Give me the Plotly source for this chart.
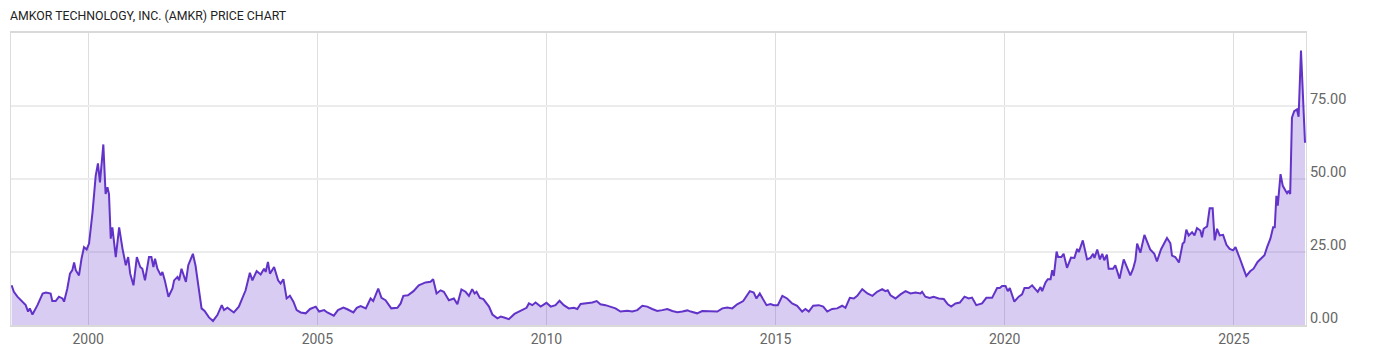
import plotly.graph_objects as go

title_text = "AMKOR TECHNOLOGY, INC. (AMKR) PRICE CHART"

dates = [
    "1998-05-01", "1998-05-19", "1998-06-16", "1998-07-12", "1998-08-21", "1998-09-09", "1998-09-23",
    "1998-10-14", "1998-11-23", "1999-01-03", "1999-01-29", "1999-03-08", "1999-03-21", "1999-04-17",
    "1999-05-13", "1999-06-10", "1999-06-23", "1999-07-19", "1999-08-09", "1999-08-28", "1999-09-11",
    "1999-09-24", "1999-10-20", "1999-11-09", "1999-11-29", "1999-12-20", "2000-01-08", "2000-02-05",
    "2000-03-01", "2000-03-19", "2000-04-04", "2000-05-01", "2000-05-19", "2000-06-03", "2000-06-15",
    "2000-06-29", "2000-07-12", "2000-08-08", "2000-09-04", "2000-10-01", "2000-10-27", "2000-11-15",
    "2000-12-01", "2000-12-27", "2001-01-23", "2001-02-19", "2001-03-08", "2001-03-29", "2001-04-30",
    "2001-05-19", "2001-06-04", "2001-06-17", "2001-07-06", "2001-08-02", "2001-08-15", "2001-09-03",
    "2001-10-02", "2001-11-03", "2001-11-16", "2001-12-13", "2001-12-26", "2002-01-14", "2002-02-18",
    "2002-03-09", "2002-04-15", "2002-05-06", "2002-06-02", "2002-06-23", "2002-07-17", "2002-08-21",
    "2002-09-22", "2002-10-27", "2002-12-01", "2002-12-19", "2003-01-15", "2003-02-06",
    "2003-03-07", "2003-04-16", "2003-05-13", "2003-06-09", "2003-07-13", "2003-08-02", "2003-09-05",
    "2003-10-07", "2003-11-03", "2003-11-16", "2003-12-04", "2003-12-20", "2004-01-22", "2004-02-23",
    "2004-03-14", "2004-04-05", "2004-05-01", "2004-05-27", "2004-06-24", "2004-07-20", "2004-08-21",
    "2004-09-30", "2004-11-04", "2004-12-19", "2005-01-15", "2005-02-24", "2005-03-21", "2005-05-12",
    "2005-06-14", "2005-07-27", "2005-08-28", "2005-10-15", "2005-11-11", "2005-12-12", "2006-01-22",
    "2006-03-01", "2006-03-22", "2006-05-01", "2006-05-27", "2006-06-28", "2006-08-13", "2006-10-01",
    "2006-10-27", "2006-11-17", "2006-12-24", "2007-02-06", "2007-03-20", "2007-05-13", "2007-06-22",
    "2007-07-13", "2007-08-09", "2007-09-10", "2007-10-06", "2007-11-15",
    "2007-12-25", "2008-01-22", "2008-02-23", "2008-03-27", "2008-04-23", "2008-05-19", "2008-06-07",
    "2008-06-23", "2008-07-19", "2008-08-16", "2008-09-30", "2008-10-27", "2008-12-06", "2009-01-02",
    "2009-02-03", "2009-03-07", "2009-04-21", "2009-06-03", "2009-07-05", "2009-07-26", "2009-08-14",
    "2009-09-10", "2009-10-06", "2009-11-16", "2010-01-01", "2010-02-04", "2010-03-14", "2010-04-15",
    "2010-05-19", "2010-06-28", "2010-08-07", "2010-09-04", "2010-09-30", "2010-11-22", "2011-01-02",
    "2011-02-05", "2011-03-07", "2011-04-16", "2011-05-26", "2011-07-05", "2011-08-14", "2011-10-07",
    "2011-11-16", "2011-12-26", "2012-02-04", "2012-03-14", "2012-04-23", "2012-06-02", "2012-07-12",
    "2012-08-21", "2012-09-30", "2012-11-09", "2012-12-19", "2013-01-28", "2013-02-24", "2013-03-20",
    "2013-04-16", "2013-05-26", "2013-07-18", "2013-09-24", "2013-11-03", "2013-12-12", "2014-01-21",
    "2014-03-01", "2014-04-18", "2014-05-14", "2014-06-10", "2014-07-11", "2014-08-02", "2014-08-28",
    "2014-09-25", "2014-10-21", "2014-11-22", "2014-12-18", "2015-01-19", "2015-02-24", "2015-04-03",
    "2015-05-13", "2015-06-22", "2015-08-01", "2015-08-27", "2015-09-23", "2015-10-28", "2015-12-12",
    "2016-01-16", "2016-02-17", "2016-03-27", "2016-05-06", "2016-06-15", "2016-07-11", "2016-08-15",
    "2016-09-16", "2016-10-13", "2016-11-22", "2017-01-02", "2017-02-11", "2017-03-20", "2017-04-30",
    "2017-05-25", "2017-06-13", "2017-07-05", "2017-08-14", "2017-09-23", "2017-11-02", "2017-12-12",
    "2018-01-21", "2018-03-01", "2018-03-14", "2018-04-09", "2018-05-13", "2018-06-14", "2018-07-24",
    "2018-09-03", "2018-10-05", "2018-11-01", "2018-12-05", "2019-01-09",
    "2019-02-15", "2019-03-20", "2019-04-16", "2019-05-20", "2019-07-05", "2019-08-08", "2019-09-23",
    "2019-11-02", "2019-11-23", "2019-12-12", "2020-01-08", "2020-01-26", "2020-02-11", "2020-03-18",
    "2020-04-22", "2020-05-19", "2020-06-07", "2020-07-11", "2020-08-07", "2020-09-03", "2020-09-21",
    "2020-10-13", "2020-10-26", "2020-11-22", "2020-12-10", "2021-01-01", "2021-01-14", "2021-01-27",
    "2021-02-18", "2021-03-02", "2021-03-28", "2021-04-15", "2021-05-12", "2021-06-13", "2021-07-10",
    "2021-08-01", "2021-08-14", "2021-09-15", "2021-10-19", "2021-11-15", "2021-12-06", "2021-12-17",
    "2022-01-08", "2022-01-29", "2022-02-17", "2022-03-05", "2022-03-26", "2022-04-09", "2022-05-14",
    "2022-06-01", "2022-06-15", "2022-07-05", "2022-08-07", "2022-09-03", "2022-09-29", "2022-10-21",
    "2022-11-08", "2022-11-22", "2022-12-18", "2023-01-19", "2023-02-10", "2023-03-06", "2023-04-08",
    "2023-04-29", "2023-05-31", "2023-07-18", "2023-08-14", "2023-08-27", "2023-09-22", "2023-10-21",
    "2023-11-20", "2023-12-03", "2023-12-19", "2024-01-07", "2024-02-03", "2024-02-22", "2024-03-13",
    "2024-04-09", "2024-04-22", "2024-05-05", "2024-06-02", "2024-06-22", "2024-07-16", "2024-08-01",
    "2024-08-20", "2024-09-10", "2024-10-07", "2024-11-03", "2024-11-29", "2024-12-26", "2025-01-14",
    "2025-01-27", "2025-02-23", "2025-03-19", "2025-04-10", "2025-05-11", "2025-06-07", "2025-07-09",
    "2025-08-14", "2025-09-02", "2025-09-23", "2025-10-19", "2025-11-10", "2025-11-23", "2025-12-06",
    "2025-12-17", "2026-01-08", "2026-01-26", "2026-02-17", "2026-03-01", "2026-03-13", "2026-03-26",
    "2026-04-09", "2026-04-27", "2026-05-19", "2026-06-01", "2026-06-20", "2026-07-06", "2026-07-22",
]

prices = [
    13.6, 11.4, 9.7, 8.5, 6.8, 4.6, 5.7,
    3.6, 6.8, 10.8, 11.1, 10.8, 8.2, 8.2,
    9.7, 9.1, 8.0, 12.5, 17.6, 18.8, 21.4,
    18.8, 17.0, 22.7, 26.7, 25.9, 27.9, 38.7,
    51.1, 55.4, 48.9, 61.9, 44.9, 47.2, 44.9,
    29.6, 33.5, 23.3, 33.5, 26.1, 20.5, 23.3,
    17.6, 13.6, 23.3, 19.9, 19.3, 15.3, 23.3,
    23.3, 19.9, 22.7, 19.3, 17.0, 18.2, 15.3,
    9.7, 12.5, 15.3, 16.5, 15.3, 19.3, 14.8,
    20.5, 24.4, 20.3, 12.5, 5.7, 4.8, 2.6,
    1.4, 3.4, 6.8, 5.1, 5.9, 5.1,
    4.3, 6.3, 9.1, 11.9, 17.9, 15.3, 18.5,
    17.3, 19.3, 18.2, 21.6, 17.6, 19.9, 15.3,
    14.2, 15.7, 9.1, 10.0, 8.0, 5.1, 4.3,
    4.0, 5.5, 6.3, 4.6, 5.1, 4.3, 3.2,
    5.1, 6.0, 5.4, 4.3, 5.9, 6.5, 5.7,
    9.1, 8.2, 12.5, 9.3, 8.5, 5.7, 5.9,
    7.4, 10.0, 10.2, 11.6, 13.6, 14.6, 14.8,
    15.7, 10.8, 11.9, 11.4, 8.5,
    9.1, 7.1, 12.2, 11.4, 10.0, 12.3, 10.8,
    11.4, 9.3, 8.9, 6.3, 3.6, 2.3, 2.9,
    2.5, 2.0, 3.8, 4.8, 5.7, 5.9, 7.4,
    6.8, 7.7, 6.3, 7.6, 6.3, 6.8, 8.3,
    6.8, 5.7, 5.9, 5.5, 7.2, 7.4, 7.7,
    8.2, 7.1, 6.8, 6.3, 5.7, 4.6, 4.9,
    4.6, 5.1, 6.6, 6.3, 5.5, 4.8, 5.1,
    5.5, 4.8, 4.4, 4.6, 5.0, 4.6, 4.4,
    4.0, 4.8, 4.6, 4.6, 5.7, 6.0, 5.7,
    7.1, 8.2, 9.7, 11.6, 11.1, 9.1, 10.8,
    8.9, 6.8, 7.2, 6.8, 6.8, 10.0, 9.1,
    7.4, 6.6, 4.6, 5.5, 4.6, 6.6, 6.8,
    6.3, 4.6, 5.5, 5.7, 6.6, 5.9, 9.3,
    9.1, 10.0, 12.3, 10.8, 10.0, 11.4, 12.3,
    11.6, 11.9, 10.2, 9.1, 10.5, 11.6, 10.8,
    11.1, 10.8, 11.4, 9.7, 9.3, 9.7, 9.1,
    8.9, 7.1, 6.3, 7.4, 7.7,
    9.7, 9.1, 9.4, 6.8, 7.4, 9.3, 9.3,
    12.7, 12.7, 13.4, 13.4, 11.6, 12.7, 8.0,
    9.7, 10.5, 12.7, 12.7, 13.6, 12.2, 11.4,
    13.0, 11.6, 14.6, 15.7, 15.7, 18.8, 16.8,
    25.2, 23.3, 23.3, 24.4, 19.6, 23.1, 23.0,
    26.1, 25.0, 29.0, 22.5, 23.0, 24.4, 23.0,
    25.9, 22.5, 24.4, 22.2, 24.1, 19.3, 19.3,
    20.5, 18.8, 15.9, 22.5, 19.6, 17.0, 19.3,
    22.2, 27.9, 24.8, 30.9, 28.6, 25.9, 24.4,
    21.8, 25.9, 29.8, 28.0, 23.8, 23.3, 21.4,
    27.9, 28.4, 32.7, 30.7, 31.8, 30.7, 33.2,
    32.4, 30.1, 33.0, 33.8, 40.0, 40.0, 29.0,
    33.0, 30.7, 30.9, 27.5, 26.1, 25.6, 26.7,
    25.0, 22.2, 19.3, 16.8, 18.4, 19.3, 21.6,
    23.3, 23.9, 26.7, 29.6, 33.5, 33.5, 44.3,
    40.9, 51.7, 47.7, 46.0, 45.2, 46.0, 44.9,
    71.1, 73.3, 73.9, 71.4, 94.1, 75.0, 62.5,
]

year_ticks = ["2000-01-01", "2005-01-01", "2010-01-01", "2015-01-01", "2020-01-01", "2025-01-01"]
year_labels = ["2000", "2005", "2010", "2015", "2020", "2025"]
price_ticks = [0, 25, 50, 75]
price_labels = ["0.00", "25.00", "50.00", "75.00"]

fig = go.Figure()
fig.add_trace(go.Scatter(
    x=dates, y=prices, mode="lines",
    line=dict(color="#6233c8", width=2),
    fill="tozeroy", fillcolor="rgba(102,51,204,0.25)",
    hoverinfo="skip", showlegend=False,
))

fig.update_layout(
    width=1400, height=357,
    margin=dict(l=10, r=94, t=33, b=30),
    paper_bgcolor="white", plot_bgcolor="white",
    font=dict(family="Roboto", color="#666666", size=13.5),
    title=dict(text=title_text, x=10/1400, xref="container", xanchor="left",
               y=1 - 16/357, yref="container", yanchor="middle",
               font=dict(family="Roboto", size=12.3, color="#222222")),
    xaxis=dict(
        type="date", range=["1998-04-26", "2026-07-30"],
        tickvals=year_ticks, ticktext=year_labels,
        showgrid=True, gridcolor="#dedede", gridwidth=1,
        showline=True, linecolor="#d9d9d9", linewidth=2, mirror=True,
        ticks="", zeroline=False, tickfont=dict(size=14),
    ),
    yaxis=dict(
        side="right", range=[0, 100.1],
        tickvals=price_ticks, ticktext=price_labels,
        showgrid=True, gridcolor="#ececec", gridwidth=2,
        showline=True, linecolor="#dcdcdc", linewidth=1, mirror=True,
        ticks="", zeroline=False, ticklabelshift=-7,
        tickfont=dict(size=14.5),
    ),
)

fig.write_html("out.html")
